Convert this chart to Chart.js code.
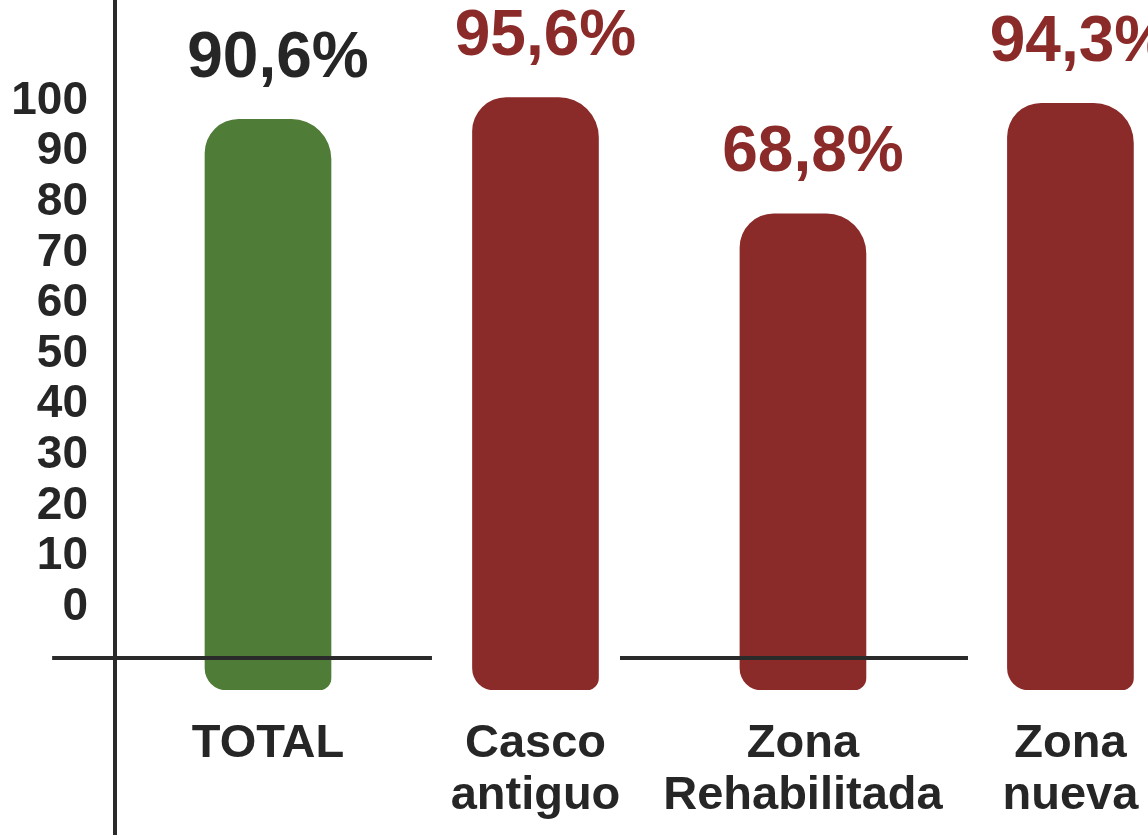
<!DOCTYPE html>
<html>
<head>
<meta charset="utf-8">
<script src="https://cdn.jsdelivr.net/npm/chart.js@4"></script>
<style>
  html, body { margin: 0; padding: 0; background: #fff; overflow: hidden; }
  #wrap { width: 1148px; height: 835px; }
</style>
</head>
<body>
<div id="wrap"><canvas id="chart" width="1148" height="835"></canvas></div>
<script>
// data
const categories = [['TOTAL'], ['Casco', 'antiguo'], ['Zona', 'Rehabilitada'], ['Zona', 'nueva']];
const values = [90.6, 95.6, 68.8, 94.3];
const valueLabels = ['90,6%', '95,6%', '68,8%', '94,3%'];
const yTicks = [0, 10, 20, 30, 40, 50, 60, 70, 80, 90, 100];

const FONT = '"Liberation Sans", Arial, sans-serif';
const GREEN = '#4f7c37';
const RED = '#8b2b29';
const INK = '#262626';

const barColors = values.map((v, i) => i === 0 ? GREEN : RED);
const labelColors = values.map((v, i) => i === 0 ? INK : RED);

// axis lines of the original figure, drawn over the bars
const axisLines = {
  id: 'axisLines',
  afterDatasetsDraw(chart) {
    const { ctx, chartArea, scales } = chart;
    ctx.save();
    ctx.strokeStyle = '#2a2a2a';
    ctx.lineWidth = 4;

    // vertical axis, whole height
    ctx.beginPath();
    ctx.moveTo(chartArea.left, 0);
    ctx.lineTo(chartArea.left, chart.height);
    ctx.stroke();

    // broken baseline at -10
    const y = Math.round(scales.y.getPixelForValue(-10));
    [[-0.807, 0.613], [1.316, 2.617]].forEach(seg => {
      ctx.beginPath();
      ctx.moveTo(scales.x.getPixelForValue(seg[0]), y);
      ctx.lineTo(scales.x.getPixelForValue(seg[1]), y);
      ctx.stroke();
    });
    ctx.restore();
  }
};

// big percentage labels above each bar
const topLabels = {
  id: 'topLabels',
  afterDatasetsDraw(chart) {
    const { ctx } = chart;
    const meta = chart.getDatasetMeta(0);
    ctx.save();
    ctx.font = 'bold 64px ' + FONT;
    ctx.textAlign = 'center';
    ctx.textBaseline = 'middle';
    meta.data.forEach((bar, i) => {
      ctx.fillStyle = labelColors[i];
      ctx.fillText(valueLabels[i], bar.x + 10, bar.y - 60);
    });
    ctx.restore();
  }
};

new Chart(document.getElementById('chart'), {
  type: 'bar',
  data: {
    datasets: [{
      data: values.map((v, i) => ({ x: i, y: v })),
      backgroundColor: barColors,
      borderWidth: 0,
      borderSkipped: false,
      borderRadius: { topLeft: 34, topRight: 40, bottomLeft: 22, bottomRight: 12 },
      barThickness: 126,
      base: -41,
      yAxisID: 'yBar'
    }]
  },
  options: {
    responsive: false,
    animation: false,
    layout: { padding: 0 },
    plugins: {
      legend: { display: false },
      tooltip: { enabled: false }
    },
    scales: {
      x: {
        type: 'linear',
        offset: false,
        min: -0.572,
        max: 3.29,
        grid: { display: false, drawTicks: false, offset: false },
        border: { display: false },
        afterBuildTicks: s => { s.ticks = categories.map((c, i) => ({ value: i })); },
        afterFit: s => { s.height = 145; s.paddingLeft = 0; s.paddingRight = 0; },
        ticks: {
          padding: 28,
          color: INK,
          maxRotation: 0,
          autoSkip: false,
          font: { family: FONT, size: 47, weight: 'bold', lineHeight: 1.1 },
          callback: v => categories[v]
        }
      },
      y: {
        position: 'left',
        min: -16.4,
        max: 120,
        grid: { display: false, drawTicks: false },
        border: { display: false },
        afterBuildTicks: s => { s.ticks = yTicks.map(v => ({ value: v })); },
        afterFit: s => { s.width = 115; s.paddingTop = 0; s.paddingBottom = 0; },
        ticks: {
          padding: 27,
          color: INK,
          font: { family: FONT, size: 46, weight: 'bold' }
        }
      },
      yBar: {
        display: false,
        min: -41,
        max: 118.1
      }
    }
  },
  plugins: [axisLines, topLabels]
});
</script>
</body>
</html>
